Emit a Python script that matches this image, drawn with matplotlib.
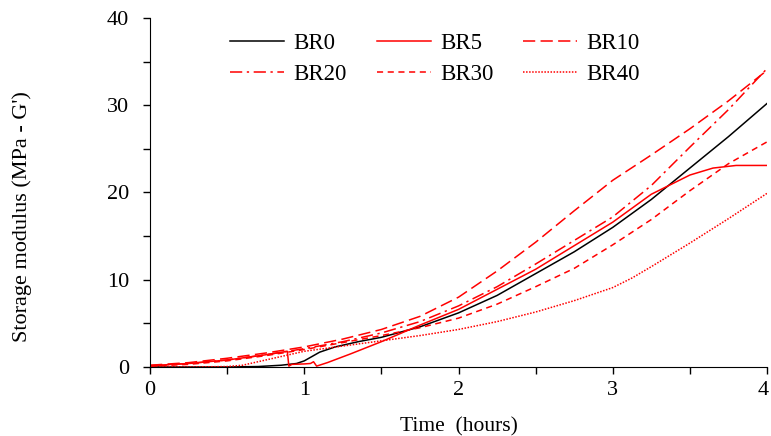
import matplotlib
matplotlib.use("Agg")
from matplotlib import pyplot as plt
from matplotlib.ticker import FixedLocator, MultipleLocator
import matplotlib.transforms as mtransforms

plt.rcParams['font.family'] = ['Liberation Serif', 'DejaVu Serif']

# readings (time in hours, G' in MPa)
t_br0 = [0, 0.5, 0.7, 0.85, 0.95, 1.0, 1.05, 1.1, 1.2, 1.35, 1.5, 1.75, 2.0, 2.25, 2.5, 2.75, 3.0, 3.25, 3.5, 3.75, 4.0]
br0 = [0, 0, 0.05, 0.2, 0.4, 0.7, 1.2, 1.7, 2.3, 2.9, 3.4, 4.6, 6.2, 8.2, 10.7, 13.2, 16.0, 19.2, 22.8, 26.4, 30.2]

t_br5 = [0, 0.25, 0.5, 0.75, 0.89, 0.9, 0.92, 1.0, 1.04, 1.06, 1.08, 1.15, 1.3, 1.5, 1.75, 2.0, 2.25, 2.5, 2.75, 3.0, 3.25, 3.5, 3.65, 3.8, 3.9, 4.0]
br5 = [0.15, 0.4, 0.8, 1.4, 1.8, 0.1, 0.3, 0.35, 0.4, 0.6, 0.1, 0.5, 1.5, 2.9, 4.8, 6.6, 8.9, 11.2, 13.9, 16.6, 19.8, 22.0, 22.8, 23.1, 23.1, 23.1]

t_q = [0, 0.25, 0.5, 0.75, 1.0, 1.25, 1.5, 1.75, 2.0, 2.25, 2.5, 2.75, 3.0, 3.25, 3.5, 3.75, 4.0]
br10 = [0.2, 0.5, 1.0, 1.6, 2.3, 3.2, 4.3, 5.8, 8.0, 11.0, 14.3, 17.9, 21.4, 24.3, 27.3, 30.5, 34.0]
br20 = [0.15, 0.4, 0.8, 1.4, 2.1, 2.9, 3.9, 5.2, 7.0, 9.2, 11.8, 14.5, 17.2, 20.8, 25.2, 29.5, 34.2]
br30 = [0.1, 0.3, 0.7, 1.3, 2.0, 2.8, 3.6, 4.5, 5.6, 7.2, 9.2, 11.3, 14.0, 16.9, 20.2, 23.3, 25.8]

t_br40 = [0, 0.25, 0.5, 0.6, 0.7, 0.8, 0.9, 1.0, 1.25, 1.5, 1.75, 2.0, 2.25, 2.5, 2.75, 2.9, 3.0, 3.125, 3.25, 3.5, 3.75, 4.0]
br40 = [0, 0, 0.05, 0.2, 0.6, 1.0, 1.4, 1.8, 2.4, 3.0, 3.6, 4.3, 5.2, 6.3, 7.6, 8.5, 9.1, 10.2, 11.5, 14.2, 17.0, 19.9]

fig = plt.figure(figsize=(7.71, 4.36), dpi=100)
ax = fig.add_axes([0.1946, 0.1583, 0.8002, 0.8004])

l0, = ax.plot(t_br0, br0, color='black', lw=1.1, label='BR0')
l5, = ax.plot(t_br5, br5, color='red', lw=1.1, label='BR5')
l10, = ax.plot(t_q, br10, color='red', lw=1.1, ls=(0, (8, 3.5)), label='BR10')
l20, = ax.plot(t_q, br20, color='red', lw=1.1, ls=(0, (8, 3, 1.5, 3)), label='BR20')
l30, = ax.plot(t_q, br30, color='red', lw=1.1, ls=(0, (4, 3)), label='BR30')
l40, = ax.plot(t_br40, br40, color='red', lw=1.1, ls=(0, (1, 1)), label='BR40')

ax.set_xlim(0, 4)
ax.set_ylim(0, 40)
ax.xaxis.set_major_locator(FixedLocator([0, 1, 2, 3, 4]))
ax.xaxis.set_minor_locator(MultipleLocator(0.5))
ax.yaxis.set_major_locator(MultipleLocator(10))
ax.yaxis.set_minor_locator(MultipleLocator(5))
ax.tick_params(which='both', direction='out', length=5, width=1, labelsize=16)
ax.tick_params(axis='x', pad=5)
ax.tick_params(axis='y', pad=10)
ax.spines['top'].set_visible(False)
ax.spines['right'].set_visible(False)

ax.set_xlabel('Time  (hours)', fontsize=15.5)
ax.set_ylabel("Storage modulus (MPa - G')", fontsize=16)
ax.xaxis.set_label_coords(0.5, -0.144)
ax.yaxis.set_label_coords(-0.192, 0.43)

# row-wise order like the original
hs = [l0, l20, l5, l30, l10, l40]
ax.legend(hs, [h.get_label() for h in hs], ncol=3, loc='upper left',
          bbox_to_anchor=(0.104, 1.002), frameon=False,
          fontsize=16.5, handlelength=2.36, handletextpad=0.4, columnspacing=1.3,
          labelspacing=0.4, borderpad=0.2)

# keep the last x label inside the figure
fig.canvas.draw()
last = ax.xaxis.get_major_ticks()[-1].label1
last.set_transform(last.get_transform() + mtransforms.ScaledTranslation(-4 / 100, 0, fig.dpi_scale_trans))

fig.savefig('out.png', dpi=100)
